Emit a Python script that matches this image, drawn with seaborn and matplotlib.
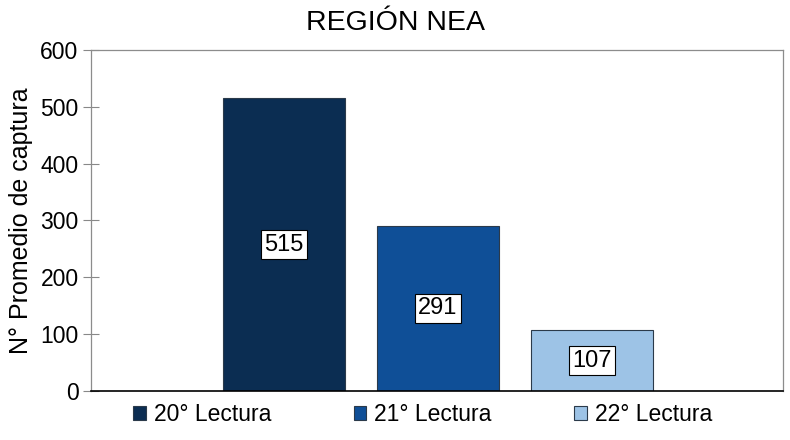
import matplotlib
matplotlib.use("Agg")
import numpy as np
import pandas as pd
import matplotlib.pyplot as plt
import seaborn as sns

lecturas = ["20° Lectura", "21° Lectura", "22° Lectura"]
capturas = [515, 291, 107]
colores = ["#0b2d52", "#0f4f97", "#9dc3e6"]
y_ticks = [0, 100, 200, 300, 400, 500, 600]

sns.set_style("white", {"text.color": "black", "axes.labelcolor": "black",
                        "ytick.color": "black"})
plt.rcParams['font.family'] = ['Liberation Sans', 'DejaVu Sans']

df = pd.DataFrame({"lectura": lecturas, "captura": capturas})

fig = plt.figure(figsize=(7.9, 4.4), dpi=100)
ax = fig.add_axes([0.1152, 0.1114, 0.876, 0.775])

sns.barplot(data=df, x="lectura", y="captura", hue="lectura", palette=colores,
            saturation=1, width=0.79, dodge=False, legend=True, ax=ax,
            edgecolor="#2b3a4a", linewidth=0.8)

for cont, v in zip(ax.containers, capturas):
    ax.bar_label(cont, labels=[str(v)], label_type="center", fontsize=17, color="black",
                 bbox=dict(boxstyle="square,pad=0.15", fc="white", ec="black", lw=0.8))

ax.set_xlim(-1.253, 3.24)
ax.set_ylim(0, 600)
ax.set_yticks(y_ticks)
ax.tick_params(axis="y", direction="inout", length=12, width=0.8, color="#888888",
               labelcolor="black", labelsize=16.5, pad=3, left=True)
ax.tick_params(axis="x", bottom=False, labelbottom=False)
ax.set_xlabel("")
ax.set_ylabel("N° Promedio de captura", fontsize=18, labelpad=5, color="black")

for side in ["left", "top", "right"]:
    ax.spines[side].set_color("#8c8c8c")
    ax.spines[side].set_linewidth(0.9)
ax.spines["bottom"].set_color("black")
ax.spines["bottom"].set_linewidth(1.2)

fig.suptitle("REGIÓN NEA", fontsize=20.5, x=0.5, y=0.978, color="black")

handles, labels = ax.get_legend_handles_labels()
ax.get_legend().remove()
leg = fig.legend(handles, labels, loc="lower center", bbox_to_anchor=(0.535, -0.015), ncol=3,
                 frameon=False, fontsize=16.5, handlelength=0.55, handleheight=0.55,
                 handletextpad=0.35, columnspacing=3.6)
for t in leg.get_texts():
    t.set_color("black")

fig.savefig("out.png", dpi=100)
